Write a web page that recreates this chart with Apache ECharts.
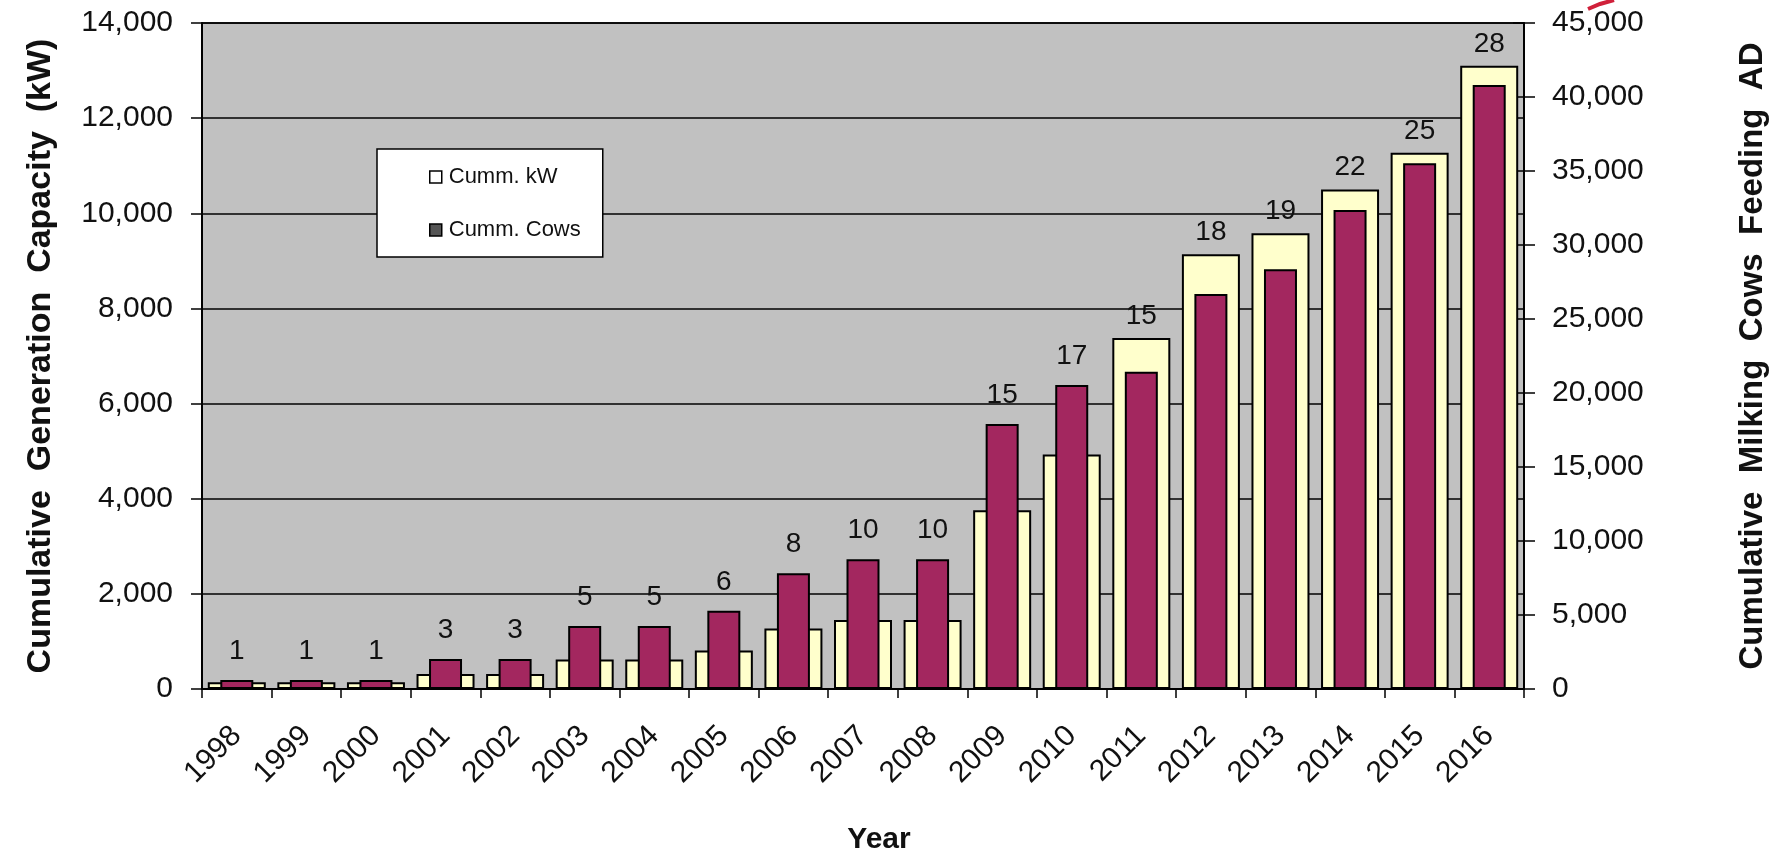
<!DOCTYPE html>
<html>
<head>
<meta charset="utf-8">
<title>Cumulative Generation Capacity and Milking Cows Feeding AD</title>
<script src="https://cdn.jsdelivr.net/npm/echarts@6/dist/echarts.min.js"></script>
<style>
  html, body { margin: 0; padding: 0; background: #ffffff; }
  #chart { width: 1779px; height: 851px; }
</style>
</head>
<body>
<div id="chart"></div>
<script>
// Years on the category axis
const years = ['1998', '1999', '2000', '2001', '2002', '2003', '2004', '2005', '2006', '2007',
               '2008', '2009', '2010', '2011', '2012', '2013', '2014', '2015', '2016'];

// Cumulative generation capacity (kW), left axis
const cummKW = [140, 140, 140, 315, 315, 620, 620, 810, 1270, 1450,
                1450, 3760, 4930, 7380, 9140, 9580, 10500, 11270, 13100];

// Cumulative milking cows feeding AD, right axis
const cummCows = [600, 600, 600, 2030, 2030, 4250, 4250, 5280, 7820, 8760,
                  8760, 17900, 20540, 21440, 26690, 28360, 32370, 35520, 40810];

// Number of digesters in operation, shown above each year
const digesters = [1, 1, 1, 3, 3, 5, 5, 6, 8, 10, 10, 15, 17, 15, 18, 19, 22, 25, 28];

// Axis ranges
const kwMax = 14000, kwStep = 2000;
const cowsMax = 45000, cowsStep = 5000;

const FONT = "'Liberation Sans', Arial, sans-serif";
const INK = '#111111';

// The digester count sits above whichever bar of the year stands taller
const kwOnTop = cummKW.map((v, i) => v / kwMax >= cummCows[i] / cowsMax);

const countLabel = (i, show, distance) => ({
  show: show,
  position: 'top',
  distance: distance,
  formatter: String(digesters[i]),
  fontFamily: FONT,
  fontSize: 28,
  color: INK
});

const kwData = cummKW.map((v, i) => ({ value: v, label: countLabel(i, kwOnTop[i], 8) }));
const cowsData = cummCows.map((v, i) => ({ value: v, label: countLabel(i, !kwOnTop[i], 15) }));

const thousands = v => v.toLocaleString('en-US');

const chart = echarts.init(document.getElementById('chart'), null, { renderer: 'canvas' });

chart.setOption({
  backgroundColor: '#ffffff',
  animation: false,
  textStyle: { fontFamily: FONT },
  grid: {
    left: 202, right: 255, top: 23, bottom: 162,
    outerBoundsMode: 'none',
    containLabel: false,
    show: true,
    backgroundColor: '#c1c1c1',
    borderColor: '#000000',
    borderWidth: 1.5
  },
  legend: {
    orient: 'vertical',
    left: 377, top: 149,
    padding: [17, 22, 16, 52],
    itemGap: 31,
    itemWidth: 12, itemHeight: 12,
    icon: 'rect',
    backgroundColor: '#ffffff',
    borderColor: '#000000',
    borderWidth: 1.5,
    textStyle: { fontFamily: FONT, fontSize: 22, color: INK, padding: [0, 0, 0, 2] },
    data: [
      { name: 'Cumm. kW', itemStyle: { color: '#ffffff', borderColor: '#000000', borderWidth: 1.5 } },
      { name: 'Cumm. Cows', itemStyle: { color: '#555555', borderColor: '#000000', borderWidth: 1.5 } }
    ]
  },
  xAxis: [
    {
      type: 'category',
      data: years,
      name: 'Year',
      nameLocation: 'middle',
      nameGap: 136,
      nameTextStyle: { fontFamily: FONT, fontSize: 30, fontWeight: 'bold', color: INK, padding: [0, 0, 0, 32] },
      axisLine: { lineStyle: { color: '#000000', width: 2 } },
      axisTick: { show: true, length: 9, lineStyle: { color: '#000000', width: 1.5 } },
      axisLabel: { rotate: 45, margin: 42, fontFamily: FONT, fontSize: 30, color: INK },
      splitLine: { show: false }
    },
    {
      type: 'category',
      data: years,
      show: false
    }
  ],
  yAxis: [
    {
      type: 'value',
      position: 'left',
      min: 0, max: kwMax, interval: kwStep,
      name: 'Cumulative  Generation  Capacity  (kW)',
      nameLocation: 'middle',
      nameGap: 144,
      nameRotate: 90,
      nameTextStyle: { fontFamily: FONT, fontSize: 34, fontWeight: 'bold', color: INK },
      axisLine: { show: true, lineStyle: { color: '#000000', width: 2 } },
      axisTick: { show: true, length: 11, lineStyle: { color: '#000000', width: 1.5 } },
      axisLabel: { margin: 29, formatter: thousands, fontFamily: FONT, fontSize: 30, color: INK },
      splitLine: { show: true, lineStyle: { color: '#000000', width: 1.5 } }
    },
    {
      type: 'value',
      position: 'right',
      min: 0, max: cowsMax, interval: cowsStep,
      name: 'Cumulative  Milking  Cows  Feeding  AD',
      nameLocation: 'middle',
      nameGap: 212,
      nameRotate: 90,
      nameTextStyle: { fontFamily: FONT, fontSize: 33, fontWeight: 'bold', color: INK },
      axisLine: { show: true, lineStyle: { color: '#000000', width: 2 } },
      axisTick: { show: true, length: 11, lineStyle: { color: '#000000', width: 1.5 } },
      axisLabel: { margin: 28, formatter: thousands, fontFamily: FONT, fontSize: 30, color: INK },
      splitLine: { show: false }
    },
    {
      // inner half of the right-hand tick marks
      type: 'value',
      position: 'right',
      min: 0, max: cowsMax, interval: cowsStep,
      axisLine: { show: false },
      axisTick: { show: true, inside: true, length: 11, lineStyle: { color: '#000000', width: 1.5 } },
      axisLabel: { show: false },
      splitLine: { show: false }
    }
  ],
  series: [
    {
      name: 'Cumm. kW',
      type: 'bar',
      xAxisIndex: 0,
      yAxisIndex: 0,
      barWidth: 58,
      data: kwData,
      itemStyle: { color: '#ffffcc', borderColor: '#000000', borderWidth: 2 },
      z: 2
    },
    {
      name: 'Cumm. Cows',
      type: 'bar',
      xAxisIndex: 1,
      yAxisIndex: 1,
      barWidth: 33,
      data: cowsData,
      itemStyle: { color: '#a3275f', borderColor: '#000000', borderWidth: 2 },
      z: 3
    }
  ],
  graphic: [
    {
      // tip of the red pointer at the top edge
      type: 'polyline',
      shape: { points: [[1588, 9], [1600, 4], [1614, 0]] },
      style: { stroke: '#d0203a', lineWidth: 4, fill: null },
      silent: true
    }
  ]
});
</script>
</body>
</html>
